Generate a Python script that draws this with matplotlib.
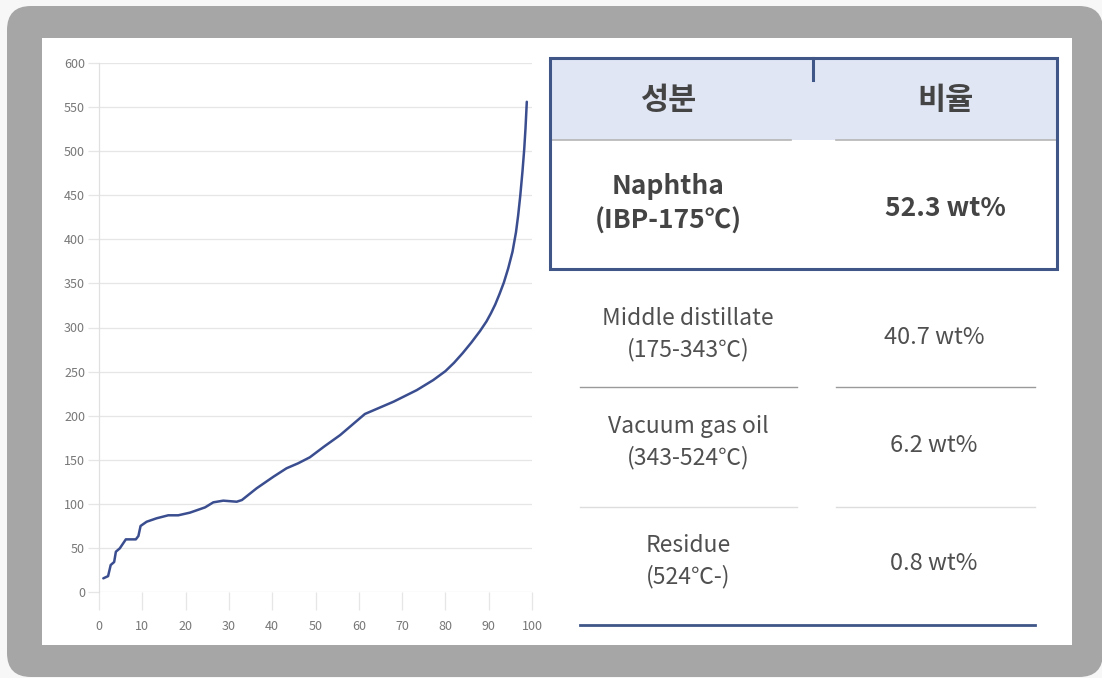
import matplotlib
matplotlib.use("Agg")
import matplotlib.pyplot as plt
from matplotlib.patches import FancyBboxPatch, Rectangle

plt.rcParams['font.family'] = ['Noto Sans CJK KR', 'DejaVu Sans']

# distillation curve
recovered = [1.0, 2.1, 2.7, 3.5, 3.9, 4.8, 6.2, 8.5, 9.1, 9.6, 11.0, 13.3, 16.0,
             18.3, 21.0, 24.5, 26.4, 28.7, 31.8, 33.0, 36.4, 40.3, 43.3, 46.0,
             48.7, 52.0, 55.7, 61.4, 68.0, 73.4, 77.2, 80.0, 82.0, 84.0, 86.0,
             88.0, 89.5, 90.5, 91.5, 92.5, 93.5, 94.5, 95.5, 96.3, 96.8, 97.3,
             97.8, 98.2, 98.5, 98.8]
temperature = [15.5, 18, 30.6, 34, 45.7, 49.5, 59.7, 59.7, 63.5, 74.9, 79.7, 83.6,
               87, 87, 90, 96, 101.7, 103.6, 102.4, 104.3, 117.6, 130.8, 140.3,
               146, 152.8, 165, 178, 201.9, 215.8, 229, 240.4, 250.5, 260, 271,
               283, 296, 307, 316, 326, 338, 351, 367, 386, 408, 427, 450,
               477, 502, 526, 556]

x_ticks = [0, 10, 20, 30, 40, 50, 60, 70, 80, 90, 100]
y_ticks = [0, 50, 100, 150, 200, 250, 300, 350, 400, 450, 500, 550, 600]

headers = ["성분", "비율"]
fractions = ["Naphtha\n(IBP-175℃)", "Middle distillate\n(175-343℃)",
             "Vacuum gas oil\n(343-524℃)", "Residue\n(524℃-)"]
ratios = ["52.3 wt%", "40.7 wt%", "6.2 wt%", "0.8 wt%"]

W, H = 1102, 678
navy = "#3f5687"
line_blue = "#3a4d8f"

fig = plt.figure(figsize=(W / 100, H / 100), dpi=100, facecolor="#f7f7f7")

# background layer in pixel coordinates
bg = fig.add_axes([0, 0, 1, 1])
bg.set_xlim(0, W)
bg.set_ylim(H, 0)
bg.axis("off")
bg.add_patch(FancyBboxPatch((7, 6), W - 6, H - 7, boxstyle="round,pad=0,rounding_size=24",
                            fc="#a6a6a6", ec="none"))
bg.add_patch(Rectangle((42, 38), 1030, 607, fc="white", ec="none"))

# table
bg.add_patch(Rectangle((550, 58), 507, 82, fc="#e0e6f4", ec="none"))
bg.add_patch(Rectangle((550, 58), 507, 211, fc="none", ec=navy, lw=2.2, zorder=5))
bg.plot([813, 813], [58, 80], color=navy, lw=2.2, zorder=5)
bg.plot([550, 791], [139.5, 139.5], color="#b5b5b5", lw=1.2)
bg.plot([836, 1057], [139.5, 139.5], color="#b5b5b5", lw=1.2)

col1, col2 = 668, 945
for hx, h in zip([col1, col2], headers):
    bg.text(hx, 100, h, ha="center", va="center", fontsize=22,
            fontweight="bold", color="#444444")

row_y = [204, 334, 442, 561]
for i, (f, r) in enumerate(zip(fractions, ratios)):
    if i == 0:
        bg.text(col1, row_y[i], f, ha="center", va="center", fontsize=19,
                fontweight="bold", color="#444444", linespacing=1.35)
        bg.text(col2, row_y[i] + 5, r, ha="center", va="center", fontsize=19,
                fontweight="bold", color="#444444")
    else:
        bg.text(688, row_y[i], f, ha="center", va="center", fontsize=16.5,
                color="#505050", linespacing=1.4)
        bg.text(934, row_y[i] + 3, r, ha="center", va="center", fontsize=17,
                color="#505050")

for y, c in [(387, "#9a9a9a"), (507, "#dddddd")]:
    bg.plot([580, 797], [y, y], color=c, lw=1.0)
    bg.plot([836, 1035], [y, y], color=c, lw=1.0)
bg.plot([580, 1035], [625, 625], color=navy, lw=2.0)

# curve chart
ax = fig.add_axes([99 / W, 1 - 592 / H, (532 - 99) / W, (592 - 63) / H])
ax.set_facecolor("none")
ax.plot(recovered, temperature, color=line_blue, lw=1.8, solid_capstyle="round",
        solid_joinstyle="round")
ax.set_xlim(0, 100)
ax.set_ylim(0, 600)
ax.set_xticks(x_ticks)
ax.set_yticks(y_ticks)
ax.grid(axis="y", color="#e6e6e6", lw=0.9)
for s in ["top", "right", "bottom"]:
    ax.spines[s].set_visible(False)
ax.spines["left"].set_color("#e0e0e0")
ax.spines["left"].set_linewidth(0.9)
ax.tick_params(axis="x", length=13, width=0.9, color="#e6e6e6", pad=7,
               labelsize=9, labelcolor="#777777")
ax.tick_params(axis="y", length=8, width=0.9, color="#e6e6e6", pad=2,
               labelsize=9, labelcolor="#777777")

fig.savefig("out.png", dpi=100, facecolor=fig.get_facecolor())
